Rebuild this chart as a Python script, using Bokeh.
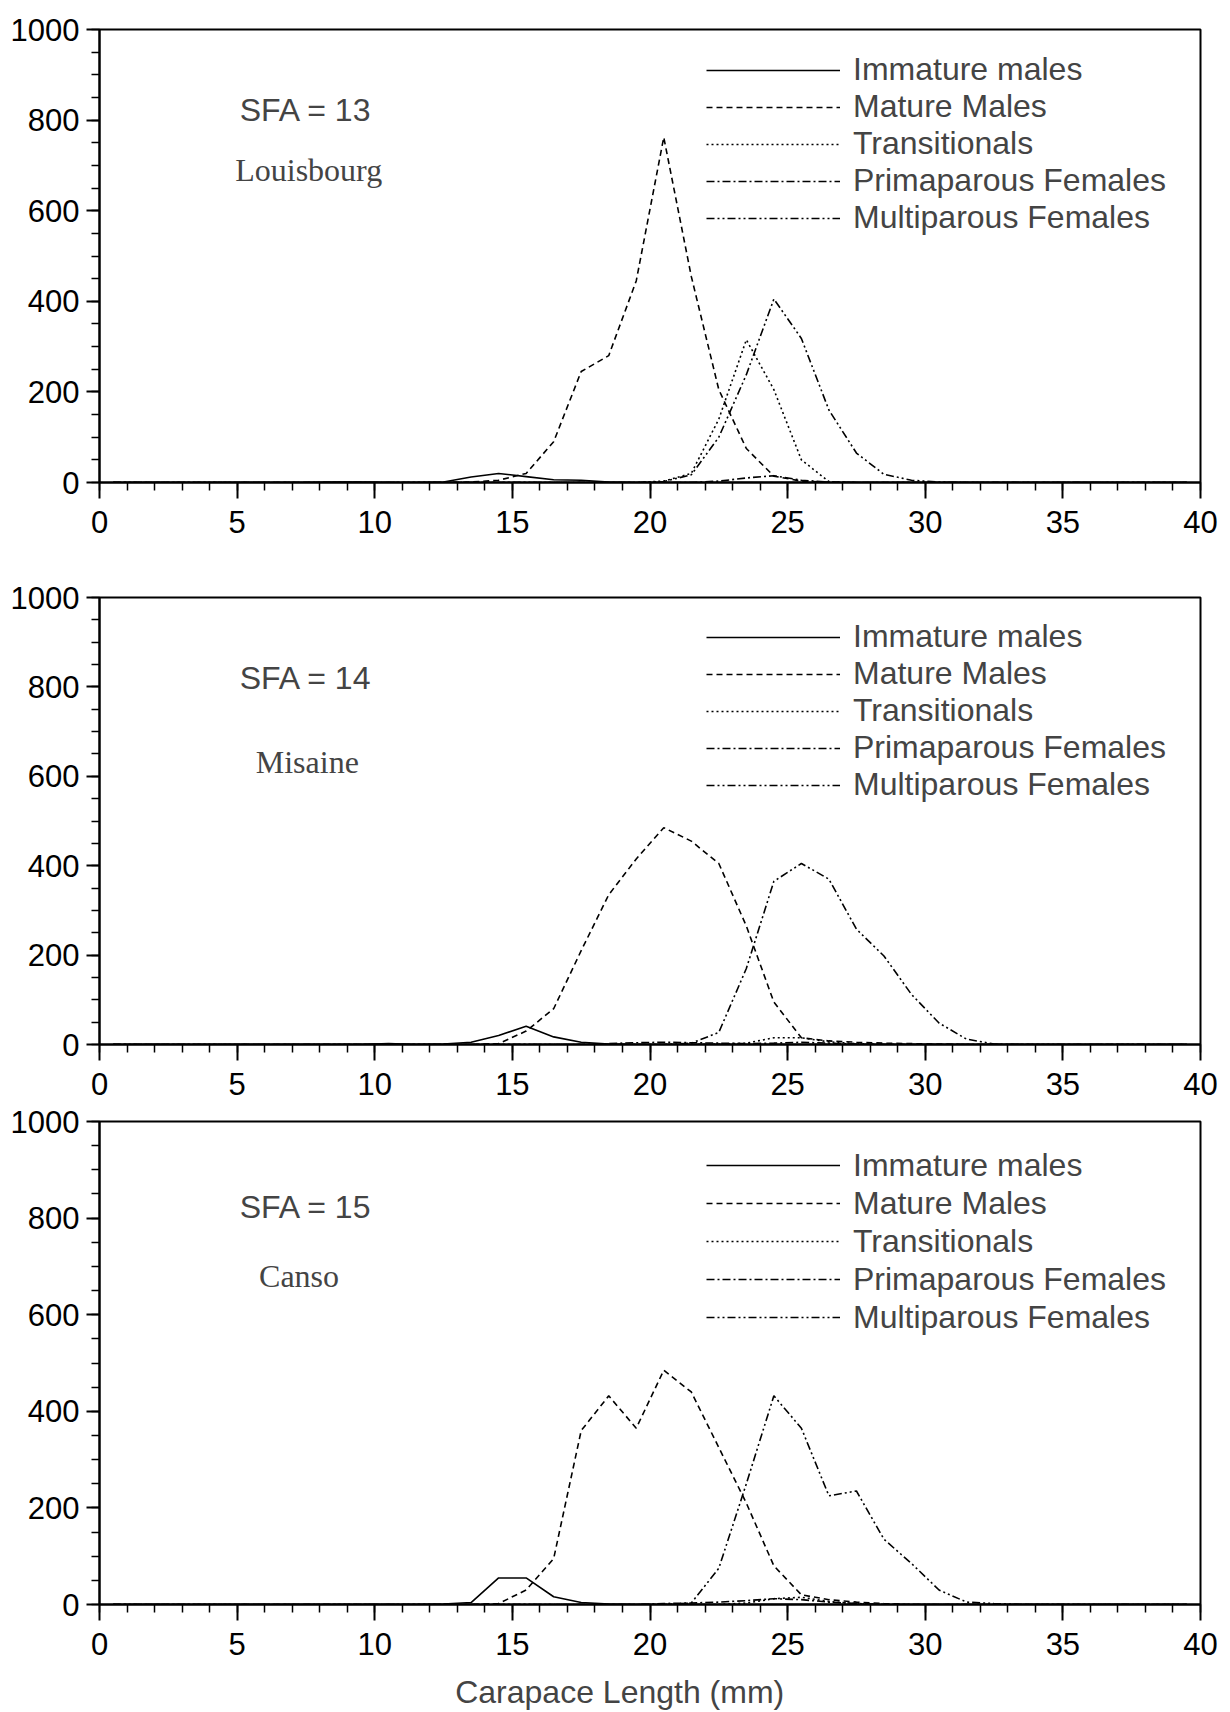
from bokeh.plotting import figure
from bokeh.models import Label, Legend, LegendItem, FixedTicker
from bokeh.layouts import column
from bokeh.embed import file_html
from bokeh.resources import INLINE

# Carapace length bin mid-points (mm)
length_mm = [0.5, 1.5, 2.5, 3.5, 4.5, 5.5, 6.5, 7.5, 8.5, 9.5,
             10.5, 11.5, 12.5, 13.5, 14.5, 15.5, 16.5, 17.5, 18.5, 19.5,
             20.5, 21.5, 22.5, 23.5, 24.5, 25.5, 26.5, 27.5, 28.5, 29.5,
             30.5, 31.5, 32.5, 33.5, 34.5, 35.5, 36.5, 37.5, 38.5, 39.5]

series_names = ["Immature males", "Mature Males", "Transitionals",
                "Primaparous Females", "Multiparous Females"]

# SFA 13 - Louisbourg
sfa13_immature = [0, 0, 0, 0, 0, 0, 0, 0, 1, 1, 0, 0, 1, 12, 20, 13, 6, 5, 1, 0,
                  0, 0, 0, 0, 0, 0, 0, 0, 0, 0, 0, 0, 0, 0, 0, 0, 0, 0, 0, 0]
sfa13_mature = [0, 0, 0, 0, 0, 0, 0, 0, 0, 0, 0, 0, 0, 1, 5, 20, 90, 245, 280, 445,
                762, 455, 205, 75, 14, 3, 1, 0, 0, 0, 0, 0, 0, 0, 0, 0, 0, 0, 0, 0]
sfa13_trans = [0, 0, 0, 0, 0, 0, 0, 0, 0, 0, 0, 0, 0, 0, 0, 0, 0, 0, 0, 0,
               3, 20, 140, 315, 205, 50, 2, 0, 0, 0, 0, 0, 0, 0, 0, 0, 0, 0, 0, 0]
sfa13_prima = [0, 0, 0, 0, 0, 0, 0, 0, 0, 0, 0, 0, 0, 0, 0, 0, 0, 0, 0, 0,
               0, 0, 3, 10, 15, 5, 1, 0, 0, 0, 0, 0, 0, 0, 0, 0, 0, 0, 0, 0]
sfa13_multi = [0, 0, 0, 0, 0, 0, 0, 0, 0, 0, 0, 0, 0, 0, 0, 0, 0, 0, 0, 0,
               2, 17, 100, 238, 405, 318, 160, 65, 18, 5, 1, 0, 0, 0, 0, 0, 0, 0, 0, 0]

# SFA 14 - Misaine
sfa14_immature = [0, 0, 0, 0, 0, 0, 0, 0, 0, 0, 2, 0, 1, 5, 20, 41, 17, 5, 1, 0,
                  0, 0, 0, 0, 0, 0, 0, 0, 0, 0, 0, 0, 0, 0, 0, 0, 0, 0, 0, 0]
sfa14_mature = [0, 0, 0, 0, 0, 0, 0, 0, 0, 0, 0, 0, 0, 0, 2, 30, 80, 210, 335, 415,
                485, 455, 405, 265, 95, 15, 8, 5, 3, 2, 1, 0, 0, 0, 0, 0, 0, 0, 0, 0]
sfa14_trans = [0, 0, 0, 0, 0, 0, 0, 0, 0, 0, 0, 0, 0, 0, 0, 0, 0, 0, 0, 0,
               0, 0, 1, 3, 15, 15, 6, 2, 0, 0, 0, 0, 0, 0, 0, 0, 0, 0, 0, 0]
sfa14_prima = [0, 0, 0, 0, 0, 0, 0, 0, 0, 0, 0, 0, 0, 0, 0, 0, 0, 0, 2, 4,
               5, 4, 3, 2, 3, 5, 3, 1, 0, 0, 0, 0, 0, 0, 0, 0, 0, 0, 0, 0]
sfa14_multi = [0, 0, 0, 0, 0, 0, 0, 0, 0, 0, 0, 0, 0, 0, 0, 0, 0, 0, 0, 0,
               0, 3, 27, 170, 365, 405, 370, 258, 198, 112, 48, 12, 1, 0, 0, 0, 0, 0, 0, 0]

# SFA 15 - Canso
sfa15_immature = [0, 0, 0, 0, 0, 0, 0, 0, 0, 0, 0, 0, 1, 4, 55, 55, 16, 4, 1, 0,
                  0, 0, 0, 0, 0, 0, 0, 0, 0, 0, 0, 0, 0, 0, 0, 0, 0, 0, 0, 0]
sfa15_mature = [0, 0, 0, 0, 0, 0, 0, 0, 0, 0, 0, 0, 0, 0, 2, 30, 95, 360, 432, 365,
                485, 440, 325, 210, 80, 20, 10, 5, 2, 0, 0, 0, 0, 0, 0, 0, 0, 0, 0, 0]
sfa15_trans = [0, 0, 0, 0, 0, 0, 0, 0, 0, 0, 0, 0, 0, 0, 0, 0, 0, 0, 0, 0,
               0, 0, 0, 3, 12, 15, 6, 2, 0, 0, 0, 0, 0, 0, 0, 0, 0, 0, 0, 0]
sfa15_prima = [0, 0, 0, 0, 0, 0, 0, 0, 0, 0, 0, 0, 0, 0, 0, 0, 0, 0, 0, 0,
               2, 3, 5, 8, 12, 10, 5, 2, 0, 0, 0, 0, 0, 0, 0, 0, 0, 0, 0, 0]
sfa15_multi = [0, 0, 0, 0, 0, 0, 0, 0, 0, 0, 0, 0, 0, 0, 0, 0, 0, 0, 0, 0,
               0, 3, 75, 250, 432, 365, 225, 235, 135, 85, 30, 5, 2, 0, 0, 0, 0, 0, 0, 0]

x_ticks = [0, 5, 10, 15, 20, 25, 30, 35, 40]
y_ticks = [0, 200, 400, 600, 800, 1000]
x_title = "Carapace Length (mm)"

DASHES = ["solid", "6 4", "2 3", "8 3 2 3", "8 3 2 3 2 3"]
SANS = "Liberation Sans"
SERIF = "Liberation Serif"
FS_TICK = "31px"
FS_TEXT = "32px"


def make_panel(series, sfa_text, place_text, frame_h, b_top, b_bottom,
               legend_bottom, row_h, sfa_y, place_y, place_x):
    p = figure(frame_width=1101, frame_height=frame_h,
               x_range=(0, 40), y_range=(0, 1000),
               min_border_left=99, min_border_right=22,
               min_border_top=b_top, min_border_bottom=b_bottom,
               output_backend="svg", toolbar_location=None,
               background_fill_color="white", border_fill_color="white")
    p.grid.visible = False
    p.outline_line_color = "black"
    p.outline_line_width = 2

    p.xaxis.ticker = FixedTicker(ticks=x_ticks, minor_ticks=list(range(0, 41)))
    p.yaxis.ticker = FixedTicker(ticks=y_ticks, minor_ticks=list(range(0, 1001, 50)))
    for ax in (p.xaxis, p.yaxis):
        ax.axis_line_width = 2
        ax.axis_line_color = "black"
        ax.major_tick_line_width = 2
        ax.minor_tick_line_width = 1.5
        ax.major_tick_in = 0
        ax.minor_tick_in = 0
        ax.major_label_text_font = SANS
        ax.major_label_text_font_size = FS_TICK
        ax.major_label_text_color = "black"
    p.xaxis.major_tick_out = 16
    p.xaxis.minor_tick_out = 8
    p.xaxis.major_label_standoff = 12
    p.yaxis.major_tick_out = 13
    p.yaxis.minor_tick_out = 8
    p.yaxis.major_label_standoff = 7

    items = []
    for name, vals, dash in zip(series_names, series, DASHES):
        r = p.line(length_mm, vals, line_color="black", line_width=1.6,
                   line_dash=dash)
        items.append(LegendItem(label=name, renderers=[r]))

    legend = Legend(items=items, location=(607, legend_bottom),
                    padding=0, margin=0, spacing=0,
                    glyph_width=134, glyph_height=row_h, label_height=row_h,
                    label_standoff=13, label_text_font=SANS,
                    label_text_font_size=FS_TEXT, label_text_baseline="middle",
                    border_line_color=None, background_fill_alpha=0)
    p.add_layout(legend)

    p.add_layout(Label(x=7.5, y=sfa_y, text=sfa_text, text_align="center",
                       text_baseline="middle", text_font=SANS, text_font_size=FS_TEXT))
    p.add_layout(Label(x=place_x, y=place_y, text=place_text, text_align="center",
                       text_baseline="middle", text_font=SERIF, text_font_size=FS_TEXT))
    return p


p1 = make_panel([sfa13_immature, sfa13_mature, sfa13_trans, sfa13_prima, sfa13_multi],
                "SFA = 13", "Louisbourg", 453, 29, 70, 246, 36, 822, 690, 7.6)
p2 = make_panel([sfa14_immature, sfa14_mature, sfa14_trans, sfa14_prima, sfa14_multi],
                "SFA = 14", "Misaine", 447, 45, 60, 241, 36, 819, 633, 7.55)
p3 = make_panel([sfa15_immature, sfa15_mature, sfa15_trans, sfa15_prima, sfa15_multi],
                "SFA = 15", "Canso", 483, 17, 64, 268, 38, 822, 681, 7.25)

# strip holding the shared x-axis title (placed slightly left of centre, as printed)
pt = figure(frame_width=1101, frame_height=44, x_range=(0, 40), y_range=(0, 44),
            min_border_left=99, min_border_right=22, min_border_top=0,
            min_border_bottom=0, x_axis_type=None, y_axis_type=None,
            output_backend="svg", toolbar_location=None,
            background_fill_color="white", border_fill_color="white")
pt.grid.visible = False
pt.outline_line_color = None
pt.add_layout(Label(x=18.9, y=21, text=x_title, text_align="center",
                    text_baseline="middle", text_font=SANS, text_font_size=FS_TEXT))

layout = column(p1, p2, p3, pt, spacing=0)
open("out.html", "w").write(file_html(layout, INLINE))
